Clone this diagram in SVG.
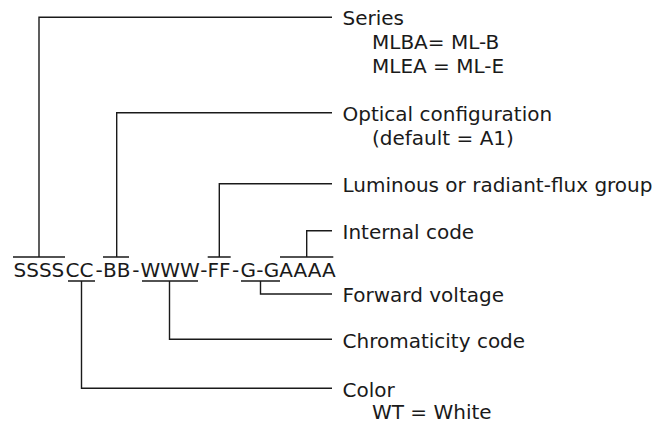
<svg xmlns="http://www.w3.org/2000/svg" width="669" height="423" viewBox="0 0 669 423">
<style>
.ln{fill:none;stroke:#1a1a1a;stroke-width:1.4;stroke-linecap:butt}
.t{font-family:"DejaVu Sans","Verdana",sans-serif;font-size:20px;fill:#1a1a1a}
.code{font-family:"DejaVu Sans","Verdana",sans-serif;font-size:20px;fill:#1a1a1a}
</style>
<rect width="669" height="423" fill="#ffffff"/>
<g id="code">
<text class="code" y="277"><tspan x="13.5">SSSS</tspan><tspan x="65.5">CC</tspan><tspan x="95.4">-</tspan><tspan x="103">BB</tspan><tspan x="132.3">-</tspan><tspan x="140.5">WWW</tspan><tspan x="200.2">-</tspan><tspan x="207.5">FF</tspan><tspan x="232">-</tspan><tspan x="240.5">G</tspan><tspan x="256.3">-</tspan><tspan x="263.8">G</tspan><tspan x="279.3">AAAA</tspan></text>
<path class="ln" d="M13 257H65M103 257H129M207.7 257H230.7M280 257H333.3M68 281H95M142 281H198M241 281H280"/>
</g>
<g id="connectors">
<path class="ln" d="M39 257V17.3H332"/>
<path class="ln" d="M116.7 257V112.7H332"/>
<path class="ln" d="M219.3 257V183.7H332"/>
<path class="ln" d="M306.7 257V230.7H332"/>
<path class="ln" d="M260.5 281V294H332"/>
<path class="ln" d="M169.5 281V339.3H332"/>
<path class="ln" d="M81.5 281V388.3H332"/>
</g>
<g id="series"><text class="t" x="342.5" y="25">Series</text><text class="t" x="372" y="49">MLBA= ML-B</text><text class="t" x="372" y="73">MLEA = ML-E</text></g>
<g id="optical"><text class="t" x="342.5" y="121">Optical configuration</text><text class="t" x="372" y="145">(default = A1)</text></g>
<g id="luminous"><text class="t" x="342.5" y="191.7">Luminous or radiant-flux group</text></g>
<g id="internal"><text class="t" x="342.5" y="239">Internal code</text></g>
<g id="forward"><text class="t" x="342.5" y="302">Forward voltage</text></g>
<g id="chromaticity"><text class="t" x="342.5" y="347.5">Chromaticity code</text></g>
<g id="color"><text class="t" x="342.5" y="396.5">Color</text><text class="t" x="372" y="418.5">WT = White</text></g>
</svg>
